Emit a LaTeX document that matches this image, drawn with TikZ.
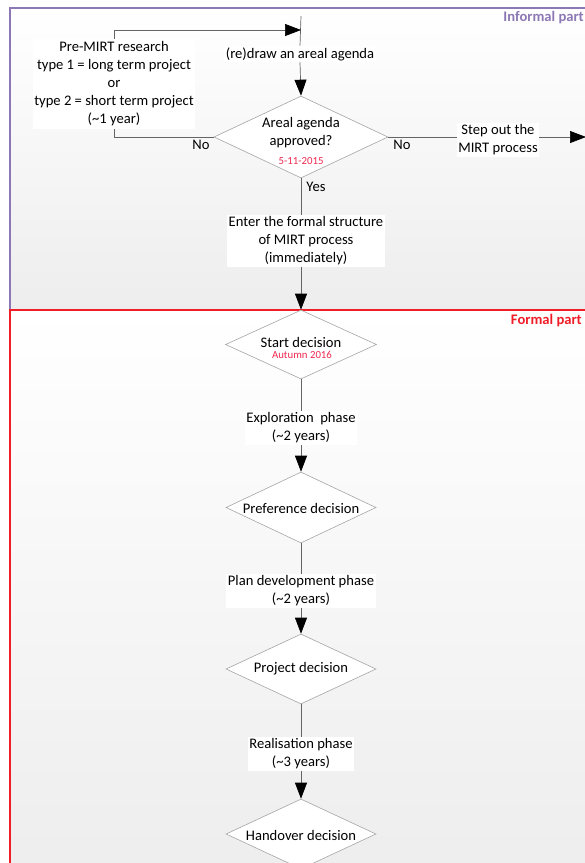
\documentclass[tikz,border=0pt]{standalone}
\usepackage{fontspec}
\setmainfont{Carlito}
\usetikzlibrary{shapes.geometric,arrows.meta}
\definecolor{infcol}{RGB}{140,120,180}
\definecolor{formcol}{RGB}{240,30,40}
\definecolor{datecol}{RGB}{240,40,80}
\definecolor{linecol}{RGB}{100,100,100}
\definecolor{diacol}{RGB}{165,165,165}
\tikzset{
  txt/.style={font=\fontsize{14.6}{18}\selectfont, align=center, inner sep=1.5pt},
  boxtxt/.style={txt, fill=white},
  datetxt/.style={font=\fontsize{10.8}{12}\selectfont, text=datecol, inner sep=0pt},
  decision/.style={diamond, draw=diacol, fill=white, line width=0.6pt, inner sep=0pt, minimum width=#1},
  conn/.style={draw=linecol, line width=0.7pt},
  arr/.style={conn, -{Triangle[length=16pt,width=12pt,fill=black,color=black]}},
  parttitle/.style={font=\bfseries\fontsize{14.6}{16}\selectfont, anchor=east, inner sep=0pt},
}
\begin{document}
\begin{tikzpicture}[x=1pt,y=-1pt]
\useasboundingbox (0,0) rectangle (585,863);
% frames for the two parts
\shade[top color=white, bottom color=black!7] (10,8) rectangle (600,310);
\draw[infcol, line width=1.2pt] (600,8) -- (10,8) -- (10,310);
\shade[top color=white, bottom color=black!7] (10,310) rectangle (600,880);
\draw[formcol, line width=1.2pt] (600,310) -- (10,310) -- (10,880);
\node[parttitle, text=infcol] (inftitle) at (584,18) {Informal part};
\node[parttitle, text=formcol] (formtitle) at (582,321) {Formal part};

% informal part
\coordinate (top) at (301,16);
\coordinate (join) at (301,30);
\coordinate (exit) at (586,137);
\node[boxtxt] (redraw) at (300,54) {(re)draw an areal agenda};
\node[boxtxt, minimum width=162pt, minimum height=90pt] (premirt) at (114,84)
  {Pre-MIRT research\\type 1 = long term project\\or\\type 2 = short term project\\(\textasciitilde1 year)};
\node[decision=174pt, minimum height=82pt] (agenda) at (301,137) {};
\node[txt] (agendatxt) at (301,133) {Areal agenda\\approved?};
\node[datetxt] (agendadate) at (301,161) {5-11-2015};
\node[boxtxt] (stepout) at (498,140) {Step out the\\MIRT process};
\node[txt] (no1) at (201,145) {No};
\node[txt] (no2) at (402,145) {No};
\node[txt] (yes) at (316,187) {Yes};
\node[boxtxt] (enter) at (306,241) {Enter the formal structure\\of MIRT process\\(immediately)};

\draw[conn] (top) -- (redraw.north);
\draw[arr] (redraw.south) -- (agenda.north);
\draw[conn] (agenda.west) -| (premirt.south);
\draw[arr] (premirt.north) |- (join);
\draw[conn] (agenda.east) -- (stepout.west |- agenda.east);
\draw[arr] (stepout.east |- agenda.east) -- (exit);
\draw[conn] (agenda.south) -- (agenda.south |- enter.north);

% formal part
\node[decision=151pt, minimum height=69pt] (start) at (301,344.5) {};
\node[txt] (starttxt) at (301,342) {Start decision};
\node[datetxt] (startdate) at (302,355) {Autumn 2016};
\node[boxtxt] (expl) at (301,428) {Exploration\ \ phase\\(\textasciitilde2 years)};
\node[decision=150pt, minimum height=71pt] (pref) at (301,507.5) {};
\node[txt] (preftxt) at (301,508) {Preference decision};
\node[boxtxt] (plan) at (301,591) {Plan development phase\\(\textasciitilde2 years)};
\node[decision=150pt, minimum height=70pt] (proj) at (301,669) {};
\node[txt] (projtxt) at (301,669) {Project decision};
\node[boxtxt] (real) at (301,754) {Realisation phase\\(\textasciitilde3 years)};
\node[decision=150pt, minimum height=70pt] (hand) at (301,834) {};
\node[txt] (handtxt) at (301,835) {Handover decision};

\draw[arr] (agenda.south |- enter.south) -- (start.north);
\draw[conn] (start.south) -- (expl.north);
\draw[arr] (expl.south) -- (pref.north);
\draw[conn] (pref.south) -- (plan.north);
\draw[arr] (plan.south) -- (proj.north);
\draw[conn] (proj.south) -- (real.north);
\draw[arr] (real.south) -- (hand.north);
\end{tikzpicture}
\end{document}
